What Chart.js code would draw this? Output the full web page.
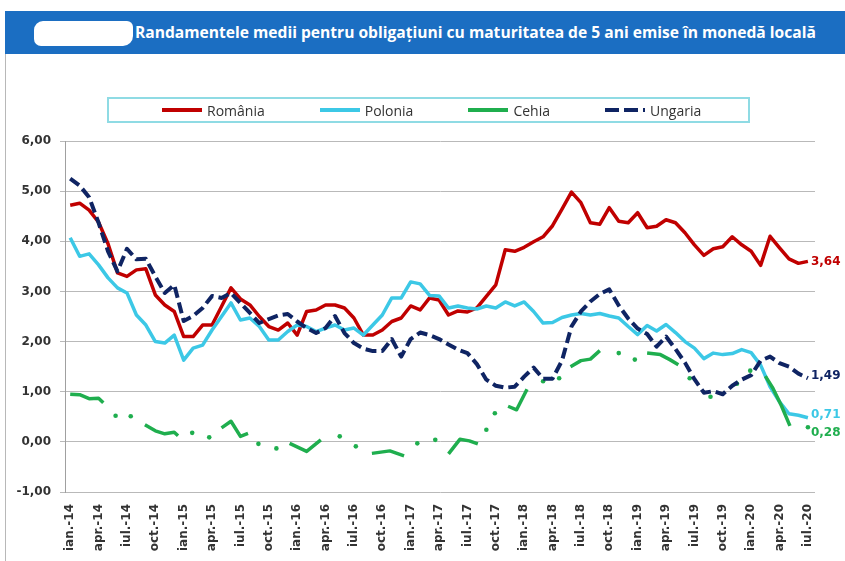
<!DOCTYPE html>
<html>
<head>
<meta charset="utf-8">
<script src="https://cdn.jsdelivr.net/npm/chart.js@4"></script>
<style>
  html, body { margin: 0; padding: 0; background: #fff; }
  #wrap { position: relative; width: 845px; height: 561px; overflow: hidden; }
  #frame { position: absolute; left: 5px; top: 11px; right: -2px; bottom: -2px; border-left: 1px solid #b8b8b8; }
  #title {
    position: absolute; left: 5px; top: 11px; width: 840px; height: 43px;
    background: #1b6ec2; color: #fff;
    font: bold 15.6px "Open Sans", sans-serif; line-height: 43px;
  }
  #title span { position: absolute; left: 130px; white-space: nowrap; }
  #blob { position: absolute; left: 29px; top: 10px; width: 99px; height: 25px; background: #fff; border-radius: 9px 6px 10px 7px; }
  #legend {
    position: absolute; left: 107px; top: 97px; width: 643px; height: 26px;
    box-sizing: border-box; border: 2px solid #8fdbe4;
    display: flex; align-items: center; gap: 55px; padding-left: 53px;
    font: 14px "Open Sans", sans-serif; color: #333;
  }
  .item { display: flex; align-items: center; }
  .sample { width: 40px; height: 4px; margin-right: 5px; }
  #chart { position: absolute; left: 0; top: 0; }
</style>
</head>
<body>
<div id="wrap">
  <canvas id="chart" width="845" height="561"></canvas>
  <div id="frame"></div>
  <div id="title"><div id="blob"></div><span>Randamentele medii pentru obligațiuni cu maturitatea de 5 ani emise în monedă locală</span></div>
  <div id="legend"></div>
</div>
<script>
// tick labels, one every 3 months (jan 2014 - jul 2020)
const tickLabels = [
  "ian.-14", "apr.-14", "iul.-14", "oct.-14",
  "ian.-15", "apr.-15", "iul.-15", "oct.-15",
  "ian.-16", "apr.-16", "iul.-16", "oct.-16",
  "ian.-17", "apr.-17", "iul.-17", "oct.-17",
  "ian.-18", "apr.-18", "iul.-18", "oct.-18",
  "ian.-19", "apr.-19", "iul.-19", "oct.-19",
  "ian.-20", "apr.-20", "iul.-20"
];

const seriesNames = ["România", "Polonia", "Cehia", "Ungaria"];
const endLabels = ["3,64", "0,71", "0,28", "1,49"];

// monthly values, jan 2014 .. jul 2020
const romania = [
  4.72, 4.76, 4.62, 4.38, 3.95, 3.37, 3.30, 3.43, 3.45, 2.93,
  2.73, 2.60, 2.10, 2.10, 2.33, 2.33, 2.70, 3.07, 2.85, 2.73,
  2.50, 2.30, 2.23, 2.37, 2.13, 2.60, 2.63, 2.73, 2.73, 2.67,
  2.47, 2.13, 2.13, 2.23, 2.40, 2.47, 2.71, 2.63, 2.87, 2.83,
  2.53, 2.61, 2.59, 2.67, 2.90, 3.13, 3.83, 3.80, 3.88, 3.99,
  4.09, 4.31, 4.64, 4.98, 4.77, 4.37, 4.34, 4.67, 4.40, 4.37,
  4.57, 4.27, 4.30, 4.43, 4.37, 4.17, 3.93, 3.72, 3.85, 3.89,
  4.09, 3.93, 3.80, 3.52, 4.10, 3.87, 3.65, 3.56, 3.60
];

const polonia = [
  4.07, 3.70, 3.75, 3.53, 3.27, 3.07, 2.97, 2.53, 2.33, 2.00,
  1.97, 2.13, 1.63, 1.87, 1.93, 2.23, 2.50, 2.77, 2.43, 2.47,
  2.30, 2.03, 2.03, 2.20, 2.33, 2.30, 2.20, 2.27, 2.33, 2.23,
  2.27, 2.13, 2.33, 2.53, 2.87, 2.87, 3.19, 3.15, 2.92, 2.91,
  2.67, 2.71, 2.67, 2.65, 2.71, 2.67, 2.79, 2.71, 2.79, 2.60,
  2.37, 2.38, 2.48, 2.53, 2.56, 2.53, 2.56, 2.51, 2.47, 2.30,
  2.14, 2.32, 2.21, 2.34, 2.18, 2.00, 1.87, 1.66, 1.77, 1.74,
  1.76, 1.84, 1.78, 1.53, 1.10, 0.80, 0.56, 0.53, 0.48
];

const ungaria = [
  5.25, 5.11, 4.88, 4.37, 3.80, 3.40, 3.85, 3.64, 3.65, 3.30,
  2.97, 3.13, 2.41, 2.51, 2.67, 2.91, 2.87, 2.97, 2.77, 2.57,
  2.37, 2.45, 2.52, 2.55, 2.40, 2.27, 2.17, 2.27, 2.51, 2.17,
  1.97, 1.86, 1.81, 1.81, 2.05, 1.70, 2.05, 2.18, 2.13, 2.05,
  1.94, 1.84, 1.77, 1.55, 1.24, 1.12, 1.08, 1.10, 1.30, 1.48,
  1.26, 1.26, 1.62, 2.30, 2.60, 2.80, 2.95, 3.04, 2.72, 2.46,
  2.26, 2.15, 1.90, 2.10, 1.85, 1.58, 1.25, 0.98, 1.01, 0.95,
  1.12, 1.24, 1.33, 1.62, 1.70, 1.57, 1.50, 1.36, 1.27
];

// Cehia has gaps; position in months from jan 2014, null = break in the line
const cehiaAt = [
  0, 1, 2, 3, 3.5, null, 4.8, null, 6.4, null,
  7.9, 9, 10, 11, 11.4, null, 12.9, null, 14.7, null,
  16, 17, 18, 18.8, null, 19.9, null, 21.8, null,
  23.2, 25, 26.5, null, 28.5, null, 30.2, null,
  31.9, 33.8, 35.3, null, 36.7, null, 38.6, null,
  40, 41.2, 42.2, 43.1, null, 44, null, 44.9, null,
  46.3, 47.2, 48.3, null, 50, null, 51.7, null,
  52.9, 54, 55, 56, null, 58, null, 59.7, null,
  61, 62.4, 63.4, 64.3, null, 65.5, null, 67.7, null,
  70.5, null, 71.9, null, 73.5, 74.3, 75.2, 76.1, null, 78
];
const cehiaVal = [
  0.95, 0.94, 0.86, 0.87, 0.78, null, 0.52, null, 0.51, null,
  0.34, 0.22, 0.16, 0.19, 0.12, null, 0.18, null, 0.09, null,
  0.28, 0.41, 0.11, 0.17, null, -0.04, null, -0.13, null,
  -0.03, -0.19, 0.04, null, 0.11, null, -0.09, null,
  -0.23, -0.18, -0.28, null, -0.03, null, 0.04, null,
  -0.24, 0.05, 0.02, -0.04, null, 0.24, null, 0.57, null,
  0.71, 0.64, 1.05, null, 1.21, null, 1.27, null,
  1.50, 1.62, 1.65, 1.82, null, 1.77, null, 1.64, null,
  1.77, 1.74, 1.64, 1.54, null, 1.27, null, 0.90, null,
  1.16, null, 1.42, null, 1.31, 1.07, 0.72, 0.32, null, 0.29
];

const colors = ["#c00000", "#3cc8e6", "#1fae4e", "#0f2463"];
// small vertical nudge of the end labels so they don't collide
const labelNudge = [0, -4, 5, -3];

function monthly(values) {
  return values.map((v, i) => ({ x: i, y: v }));
}

let cehiaData = cehiaAt.map((x, k) =>
  x === null ? { x: cehiaAt[k - 1] + 0.01, y: null } : { x: x, y: cehiaVal[k] }
);

// isolated points of Cehia show as small dots
function loneDot(ctx) {
  let d = ctx.dataset.data;
  let k = ctx.dataIndex;
  if (!d[k] || d[k].y === null) return 0;
  let prevGap = !d[k - 1] || d[k - 1].y === null;
  let nextGap = !d[k + 1] || d[k + 1].y === null;
  return prevGap && nextGap ? 2.3 : 0;
}

const endLabelPlugin = {
  id: "endLabels",
  afterDatasetsDraw(chart) {
    let ctx = chart.ctx;
    ctx.save();
    ctx.font = "bold 12px 'DejaVu Sans'";
    ctx.textBaseline = "middle";
    chart.data.datasets.forEach((ds, i) => {
      let pts = chart.getDatasetMeta(i).data;
      let last = pts[pts.length - 1];
      ctx.fillStyle = ds.borderColor;
      ctx.fillText(endLabels[i], last.x + 3, last.y + 1 + labelNudge[i]);
    });
    ctx.restore();
  },
};

// html legend
let legend = document.querySelector("#legend");
seriesNames.forEach((name, i) => {
  let item = document.createElement("div");
  item.className = "item";
  let sample = document.createElement("div");
  sample.className = "sample";
  sample.style.background = i === 3
    ? `repeating-linear-gradient(to right, ${colors[i]} 0 14px, transparent 14px 19px)`
    : colors[i];
  item.appendChild(sample);
  item.appendChild(document.createTextNode(name));
  legend.appendChild(item);
});

const tickFont = { family: "DejaVu Sans", size: 12, weight: "bold" };

new Chart(document.querySelector("#chart"), {
  type: "line",
  data: {
    datasets: [
      { label: seriesNames[0], data: monthly(romania), borderColor: colors[0], borderWidth: 3.5, order: 3 },
      { label: seriesNames[1], data: monthly(polonia), borderColor: colors[1], borderWidth: 3.5, order: 2 },
      {
        label: seriesNames[2], data: cehiaData, borderColor: colors[2], borderWidth: 3.5, order: 1,
        spanGaps: false, pointRadius: loneDot, pointBackgroundColor: colors[2], pointBorderWidth: 0,
      },
      {
        label: seriesNames[3], data: monthly(ungaria), borderColor: colors[3], borderWidth: 4, order: 0,
        borderDash: [11, 5],
      },
    ],
  },
  options: {
    responsive: false,
    animation: false,
    events: [],
    elements: {
      line: { tension: 0, borderJoinStyle: "round", fill: false },
      point: { radius: 0 },
    },
    layout: { padding: { top: 141, right: 30, left: 0, bottom: 0 } },
    plugins: {
      legend: { display: false },
      tooltip: { enabled: false },
    },
    scales: {
      x: {
        type: "linear",
        min: -0.55,
        max: 78.75,
        grid: { display: false },
        border: { display: false },
        afterBuildTicks: (scale) => {
          scale.ticks = tickLabels.map((_, i) => ({ value: i * 3 }));
        },
        afterFit: (scale) => { scale.height = 69; },
        ticks: {
          autoSkip: false,
          minRotation: 90,
          maxRotation: 90,
          padding: 4,
          color: "#333",
          font: tickFont,
          callback: (value) => tickLabels[Math.round(value / 3)],
        },
      },
      y: {
        min: -1,
        max: 6,
        afterFit: (scale) => { scale.width = 65; },
        grid: { color: "#b9b9b9", lineWidth: 1, tickLength: 5 },
        border: { color: "#a0a0a0", width: 1 },
        ticks: {
          stepSize: 1,
          padding: 9,
          color: "#333",
          font: tickFont,
          callback: (value) => value.toFixed(2).replace(".", ","),
        },
      },
    },
  },
  plugins: [endLabelPlugin],
});
</script>
</body>
</html>
